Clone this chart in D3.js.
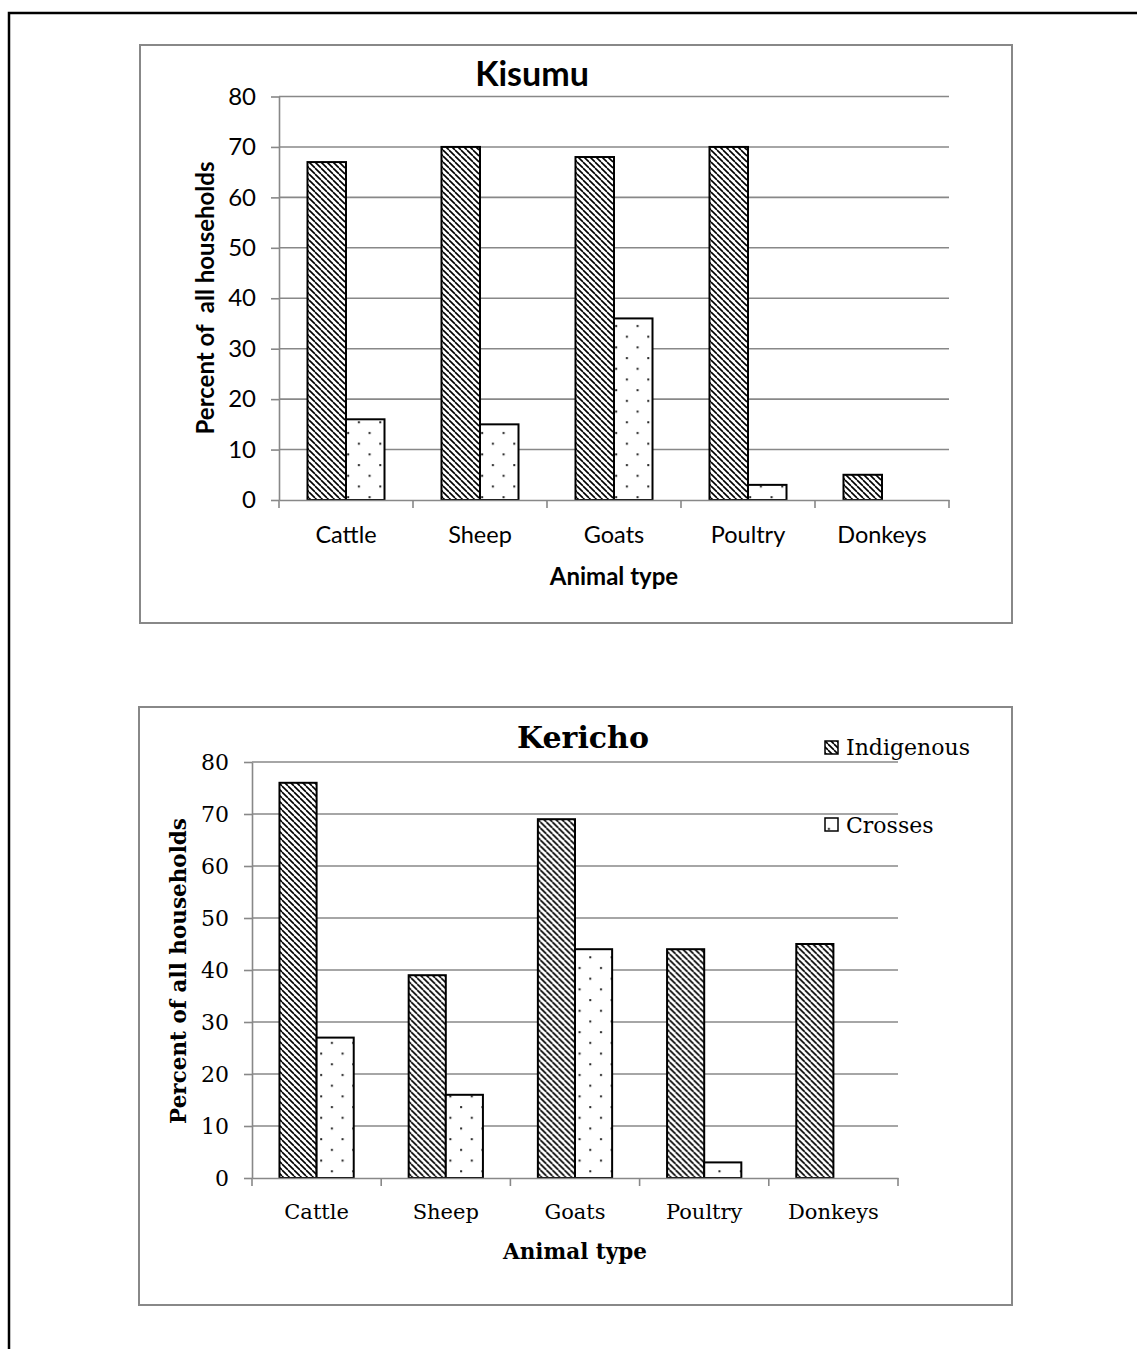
<!DOCTYPE html>
<html>
<head>
<meta charset="utf-8">
<script src="https://cdn.jsdelivr.net/npm/d3@7"></script>
<style>
  html, body { margin: 0; padding: 0; background: #fff; }
  svg { display: block; }
</style>
</head>
<body>
<div id="chart"></div>
<script>
// Households keeping each animal type, by breed group
const categories = ["Cattle", "Sheep", "Goats", "Poultry", "Donkeys"];
const seriesNames = ["Indigenous", "Crosses"];
const kisumuIndigenous = [67, 70, 68, 70, 5];
const kisumuCrosses = [16, 15, 36, 3, 0];
const kerichoIndigenous = [76, 39, 69, 44, 45];
const kerichoCrosses = [27, 16, 44, 3, 0];
const yTicks = [0, 10, 20, 30, 40, 50, 60, 70, 80];

const W = 1137, H = 1349;
const GRID = "#888888";

const svg = d3.select("#chart").append("svg")
  .attr("width", W).attr("height", H);

// Fill patterns: diagonal hatch for indigenous, sparse dots for crosses
const defs = svg.append("defs");
const HP = 6;
const hatch = defs.append("pattern")
  .attr("id", "hatch").attr("patternUnits", "userSpaceOnUse")
  .attr("width", HP).attr("height", HP);
hatch.append("rect").attr("width", HP).attr("height", HP).attr("fill", "#fff");
[-HP, 0, HP].forEach(dx => {
  hatch.append("line")
    .attr("x1", dx).attr("y1", 0).attr("x2", dx + HP).attr("y2", HP)
    .attr("stroke", "#000").attr("stroke-width", 1.6);
});
const dots = defs.append("pattern")
  .attr("id", "dots").attr("patternUnits", "userSpaceOnUse")
  .attr("width", 21.4).attr("height", 21.4);
dots.append("rect").attr("width", 21.4).attr("height", 21.4).attr("fill", "#fff");
dots.append("rect").attr("x", 4).attr("y", 4).attr("width", 2).attr("height", 2).attr("fill", "#222");
dots.append("rect").attr("x", 14.7).attr("y", 14.7).attr("width", 2).attr("height", 2).attr("fill", "#222");

const fills = { Indigenous: "url(#hatch)", Crosses: "url(#dots)" };

// Page frame
svg.append("path")
  .attr("d", `M9,${H} L9,13 L${W},13`)
  .attr("fill", "none").attr("stroke", "#000").attr("stroke-width", 2.5);

function drawPanel(cfg) {
  const g = svg.append("g");
  g.append("rect")
    .attr("x", cfg.box[0]).attr("y", cfg.box[1])
    .attr("width", cfg.box[2]).attr("height", cfg.box[3])
    .attr("fill", "#fff").attr("stroke", GRID).attr("stroke-width", 2);

  const x = d3.scaleBand().domain(categories).range([cfg.x0, cfg.x1]).padding(0);
  const xs = d3.scaleBand().domain(seriesNames).range([0, x.bandwidth()])
    .paddingInner(0).paddingOuter(0.74);
  const y = d3.scaleLinear().domain([0, 80]).range([cfg.y0, cfg.y1]);

  // Horizontal gridlines
  g.append("g").selectAll("line").data(yTicks.filter(t => t > 0)).join("line")
    .attr("x1", cfg.x0).attr("x2", cfg.x1)
    .attr("y1", d => y(d)).attr("y2", d => y(d))
    .attr("stroke", GRID).attr("stroke-width", 1.6);

  // Bars
  const rows = categories.map((c, i) => ({
    cat: c,
    vals: [
      { s: "Indigenous", v: cfg.indigenous[i] },
      { s: "Crosses", v: cfg.crosses[i] }
    ]
  }));
  g.append("g").selectAll("g").data(rows).join("g")
    .attr("transform", d => `translate(${x(d.cat)},0)`)
    .selectAll("rect").data(d => d.vals.filter(e => e.v > 0)).join("rect")
    .attr("x", d => xs(d.s)).attr("width", xs.bandwidth())
    .attr("y", d => y(d.v)).attr("height", d => y(0) - y(d.v))
    .attr("fill", d => fills[d.s]).attr("stroke", "#000").attr("stroke-width", 2);

  // Y axis
  const ya = g.append("g").attr("transform", `translate(${cfg.x0},0)`)
    .call(d3.axisLeft(y).tickValues(yTicks).tickSize(8).tickPadding(cfg.yPad).tickSizeOuter(0));
  ya.select(".domain").attr("stroke", GRID).attr("stroke-width", 1.6);
  ya.selectAll(".tick line").attr("stroke", GRID).attr("stroke-width", 1.6);
  ya.selectAll(".tick text")
    .attr("font-family", cfg.font).attr("font-size", cfg.tickSize).attr("fill", "#000");

  // X axis with ticks on band boundaries
  const xa = g.append("g").attr("transform", `translate(0,${cfg.y0})`)
    .call(d3.axisBottom(x).tickSize(0).tickPadding(cfg.xPad));
  xa.select(".domain").attr("stroke", GRID).attr("stroke-width", 1.6);
  xa.selectAll(".tick text")
    .attr("font-family", cfg.font).attr("font-size", cfg.catSize).attr("fill", "#000");
  const bounds = categories.map(c => x(c)).concat([cfg.x1]);
  g.append("g").selectAll("line").data(bounds).join("line")
    .attr("x1", d => d).attr("x2", d => d)
    .attr("y1", cfg.y0).attr("y2", cfg.y0 + 8)
    .attr("stroke", GRID).attr("stroke-width", 1.6);

  // Titles
  g.append("text").text(cfg.title)
    .attr("x", cfg.titlePos[0]).attr("y", cfg.titlePos[1])
    .attr("text-anchor", "middle").attr("font-family", cfg.font)
    .attr("font-weight", "bold").attr("font-size", cfg.titleSize);
  g.append("text").text("Animal type")
    .attr("x", cfg.xTitlePos[0]).attr("y", cfg.xTitlePos[1])
    .attr("text-anchor", "middle").attr("font-family", cfg.font)
    .attr("font-weight", "bold").attr("font-size", cfg.axisTitleSize);
  g.append("text").text(cfg.yTitle)
    .attr("transform", `translate(${cfg.yTitlePos[0]},${cfg.yTitlePos[1]}) rotate(-90)`)
    .attr("text-anchor", "middle").attr("font-family", cfg.font)
    .attr("font-weight", "bold").attr("font-size", cfg.yTitleSize)
    .style("white-space", "pre");
  return g;
}

drawPanel({
  box: [140, 45, 872, 578],
  x0: 279, x1: 949, y0: 500, y1: 96.5,
  indigenous: kisumuIndigenous, crosses: kisumuCrosses,
  font: "Lato, 'Open Sans', sans-serif",
  tickSize: 24, catSize: 23.5, yPad: 15, xPad: 26,
  title: "Kisumu", titlePos: [532, 86], titleSize: 34,
  xTitlePos: [614, 585], axisTitleSize: 24,
  yTitle: "Percent of  all households", yTitlePos: [214, 298], yTitleSize: 24
});

const ker = drawPanel({
  box: [139, 707, 873, 598],
  x0: 252, x1: 898, y0: 1178, y1: 762,
  indigenous: kerichoIndigenous, crosses: kerichoCrosses,
  font: "'DejaVu Serif', serif",
  tickSize: 22, catSize: 21, yPad: 15, xPad: 26,
  title: "Kericho", titlePos: [583, 748], titleSize: 30,
  xTitlePos: [575, 1259], axisTitleSize: 21.5,
  yTitle: "Percent of all households", yTitlePos: [186, 971], yTitleSize: 21.5
});

// Legend
const legendRows = [
  { name: seriesNames[0], y: 741, textY: 755 },
  { name: seriesNames[1], y: 818, textY: 833 }
];
const lg = ker.append("g").selectAll("g").data(legendRows).join("g");
lg.append("rect")
  .attr("x", 825).attr("y", d => d.y).attr("width", 13).attr("height", 13)
  .attr("fill", d => fills[d.name]).attr("stroke", "#000").attr("stroke-width", 1.5);
lg.append("text").text(d => d.name)
  .attr("x", 846).attr("y", d => d.textY)
  .attr("font-family", "'DejaVu Serif', serif").attr("font-size", 22);
</script>
</body>
</html>
